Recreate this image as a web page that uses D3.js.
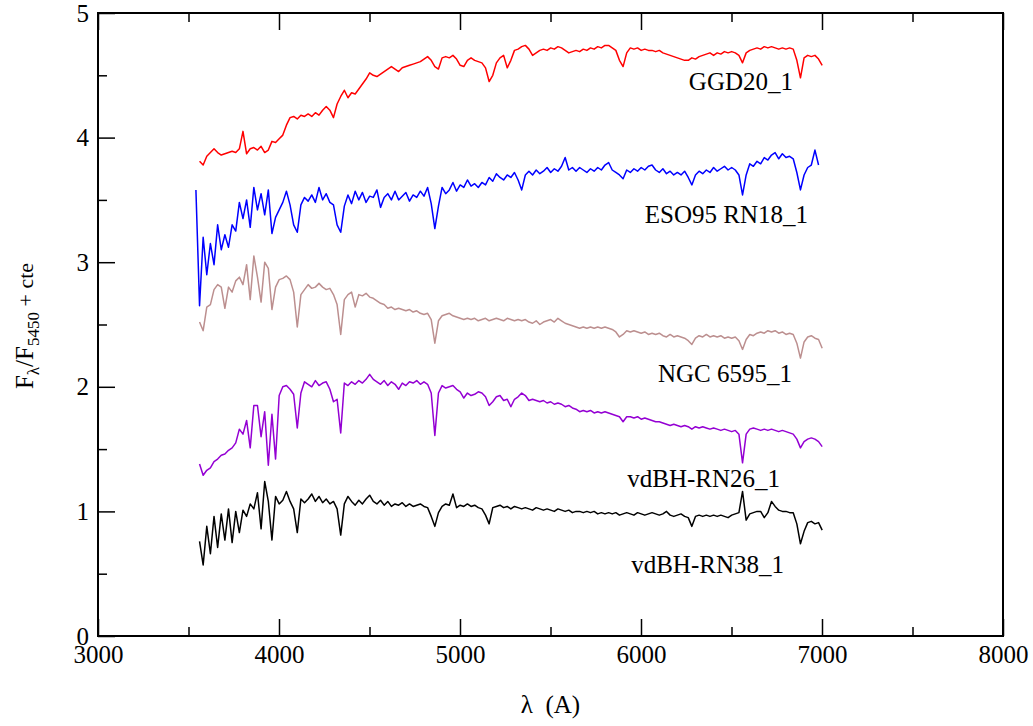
<!DOCTYPE html>
<html><head><meta charset="utf-8">
<script src="https://cdn.jsdelivr.net/npm/d3@7"></script>
<style>
body{margin:0;background:#fff}
svg{display:block}
text{font-family:"Liberation Serif","Times New Roman",serif;fill:#000}
</style>
</head><body>
<svg id="chart" width="1033" height="726"></svg>
<script>
// sampling grid of the spectra (Angstrom)
const wavelengths = d3.range(3541, 7002, 20);

const ggd20 = [
null,3.81,3.78,3.85,3.88,3.91,3.88,3.86,3.87,3.88,
3.89,3.88,3.91,4.05,3.87,3.91,3.92,3.90,3.93,3.88,
3.90,3.97,3.96,3.99,4.02,4.10,4.16,4.17,4.15,4.18,
4.17,4.19,4.17,4.20,4.18,4.22,4.25,4.22,4.16,4.27,
4.33,4.38,4.32,4.36,4.35,4.39,4.43,4.47,4.52,4.50,
4.49,4.51,4.53,4.55,4.57,4.55,4.53,4.56,4.57,4.58,
4.59,4.60,4.61,4.63,4.65,4.62,4.57,4.55,4.64,4.65,
4.64,4.66,4.63,4.58,4.57,4.62,4.64,4.62,4.61,4.60,
4.56,4.45,4.50,4.60,4.64,4.66,4.56,4.62,4.70,4.71,
4.73,4.74,4.71,4.66,4.68,4.70,4.71,4.70,4.72,4.71,
4.73,4.72,4.70,4.68,4.69,4.70,4.69,4.71,4.70,4.72,
4.71,4.73,4.72,4.74,4.74,4.72,4.70,4.62,4.57,4.68,
4.72,4.71,4.72,4.70,4.71,4.70,4.70,4.69,4.70,4.68,
4.67,4.66,4.65,4.64,4.63,4.62,4.62,4.64,4.63,4.65,
4.66,4.67,4.68,4.66,4.68,4.67,4.69,4.68,4.69,4.68,
4.66,4.60,4.68,4.70,4.71,4.72,4.71,4.73,4.72,4.73,
4.72,4.71,4.72,4.71,4.72,4.71,4.62,4.48,4.64,4.66,
4.65,4.66,4.63,4.58];

const eso95 = [
3.58,2.65,3.20,2.90,3.15,2.98,3.30,3.10,3.22,3.12,
3.30,3.25,3.48,3.35,3.50,3.28,3.60,3.42,3.55,3.38,
3.58,3.23,3.36,3.42,3.48,3.57,3.46,3.30,3.24,3.46,
3.52,3.49,3.54,3.48,3.60,3.50,3.55,3.48,3.46,3.30,
3.24,3.45,3.54,3.47,3.57,3.50,3.56,3.48,3.53,3.52,
3.58,3.44,3.52,3.55,3.50,3.57,3.50,3.53,3.56,3.49,
3.54,3.52,3.57,3.53,3.60,3.47,3.27,3.45,3.60,3.55,
3.58,3.64,3.57,3.62,3.60,3.66,3.61,3.63,3.60,3.64,
3.62,3.68,3.65,3.71,3.68,3.66,3.70,3.68,3.72,3.66,
3.58,3.70,3.73,3.70,3.74,3.71,3.73,3.76,3.72,3.75,
3.73,3.77,3.84,3.74,3.76,3.73,3.76,3.74,3.72,3.75,
3.73,3.76,3.74,3.78,3.80,3.74,3.72,3.70,3.67,3.74,
3.72,3.75,3.73,3.76,3.74,3.77,3.78,3.74,3.72,3.75,
3.71,3.73,3.70,3.72,3.70,3.73,3.68,3.62,3.70,3.73,
3.71,3.74,3.72,3.76,3.73,3.75,3.77,3.74,3.76,3.74,
3.70,3.54,3.70,3.79,3.77,3.81,3.79,3.84,3.82,3.86,
3.88,3.83,3.87,3.84,3.85,3.83,3.72,3.58,3.70,3.76,
3.78,3.90,3.78,null];

const ngc6595 = [
null,2.52,2.45,2.64,2.66,2.78,2.82,2.80,2.63,2.80,
2.76,2.85,2.88,2.82,2.98,2.70,3.05,2.88,2.68,3.00,
2.95,2.62,2.80,2.86,2.87,2.89,2.86,2.76,2.48,2.74,
2.78,2.82,2.79,2.80,2.83,2.80,2.78,2.79,2.74,2.66,
2.42,2.70,2.74,2.76,2.64,2.74,2.73,2.75,2.72,2.71,
2.69,2.67,2.66,2.63,2.64,2.62,2.63,2.62,2.61,2.62,
2.60,2.61,2.59,2.58,2.59,2.54,2.35,2.53,2.57,2.58,
2.59,2.57,2.56,2.55,2.54,2.55,2.54,2.55,2.53,2.54,
2.55,2.53,2.54,2.55,2.54,2.53,2.55,2.54,2.53,2.54,
2.53,2.54,2.52,2.51,2.53,2.50,2.52,2.53,2.54,2.52,
2.55,2.53,2.51,2.50,2.49,2.48,2.47,2.48,2.47,2.48,
2.47,2.48,2.47,2.48,2.47,2.46,2.44,2.40,2.42,2.45,
2.44,2.45,2.44,2.43,2.44,2.42,2.43,2.42,2.43,2.41,
2.40,2.42,2.40,2.41,2.40,2.39,2.37,2.34,2.39,2.41,
2.40,2.42,2.40,2.41,2.40,2.41,2.39,2.40,2.39,2.40,
2.37,2.30,2.38,2.42,2.41,2.43,2.44,2.43,2.45,2.44,
2.45,2.43,2.44,2.42,2.43,2.42,2.35,2.23,2.36,2.40,
2.41,2.39,2.38,2.31];

const rn26 = [
null,1.38,1.29,1.33,1.35,1.40,1.42,1.45,1.46,1.49,
1.51,1.55,1.66,1.62,1.73,1.51,1.85,1.85,1.60,1.80,
1.37,1.78,1.42,1.93,2.00,2.01,1.98,1.94,1.67,1.95,
2.04,2.02,2.00,2.05,2.01,2.03,2.04,1.98,1.88,1.90,
1.63,2.03,2.01,2.04,2.02,2.05,2.03,2.06,2.10,2.06,
2.04,2.02,2.05,2.01,2.04,2.02,1.98,2.03,2.01,2.04,
2.03,2.05,2.02,2.04,2.02,1.95,1.61,1.95,2.01,1.99,
2.00,2.01,1.98,1.96,1.91,1.95,1.93,1.94,1.96,1.95,
1.92,1.85,1.88,1.92,1.93,1.89,1.90,1.84,1.90,1.92,
1.95,1.93,1.89,1.90,1.89,1.88,1.89,1.87,1.88,1.86,
1.87,1.86,1.84,1.85,1.83,1.82,1.80,1.81,1.80,1.81,
1.79,1.80,1.79,1.80,1.79,1.78,1.77,1.76,1.72,1.76,
1.76,1.75,1.76,1.74,1.75,1.74,1.73,1.72,1.72,1.71,
1.70,1.69,1.70,1.69,1.68,1.69,1.68,1.66,1.68,1.67,
1.68,1.67,1.66,1.67,1.66,1.65,1.66,1.65,1.64,1.65,
1.62,1.39,1.62,1.66,1.67,1.66,1.65,1.66,1.65,1.66,
1.65,1.64,1.65,1.64,1.63,1.62,1.58,1.51,1.56,1.58,
1.59,1.58,1.56,1.52];

const rn38 = [
null,0.76,0.57,0.88,0.66,0.96,0.71,0.98,0.77,1.02,
0.75,1.00,0.83,1.01,0.96,1.06,1.02,1.15,0.86,1.24,
1.08,0.77,1.12,1.06,1.09,1.16,1.08,1.02,0.83,1.10,
1.07,1.10,1.14,1.08,1.12,1.07,1.10,1.06,1.08,1.02,
0.81,1.06,1.12,1.08,1.05,1.09,1.06,1.10,1.13,1.08,
1.06,1.09,1.05,1.08,1.04,1.06,1.05,1.07,1.04,1.06,
1.04,1.05,1.06,1.04,1.03,0.96,0.88,0.99,1.04,1.06,
1.05,1.14,1.03,1.05,1.04,1.06,1.04,1.05,1.03,1.02,
0.97,0.90,1.03,1.04,1.05,1.03,1.04,1.02,1.04,1.03,
1.02,1.03,1.02,1.01,1.03,1.02,1.01,1.02,1.01,1.00,
1.02,1.01,1.00,1.01,0.99,1.00,1.00,0.99,1.00,0.99,
1.00,0.98,0.99,0.98,0.99,0.98,0.99,0.97,0.98,0.99,
0.98,0.97,0.99,0.98,0.97,0.98,0.99,0.98,0.97,0.98,
1.00,0.97,0.96,0.97,0.98,0.96,0.95,0.88,0.96,0.97,
0.96,0.97,0.96,0.97,0.96,0.97,0.96,0.95,0.97,0.98,
0.99,1.16,0.93,0.98,0.99,1.00,1.00,0.95,0.99,1.08,
1.04,1.01,1.00,1.00,0.99,0.99,0.90,0.74,0.84,0.91,
0.92,0.90,0.91,0.85];

const seriesNames = ["GGD20_1", "ESO95 RN18_1", "NGC 6595_1", "vdBH-RN26_1", "vdBH-RN38_1"];
const seriesValues = [ggd20, eso95, ngc6595, rn26, rn38];
const seriesColors = ["#ff0000", "#0000ff", "#bc8f8f", "#9400d3", "#000000"];
// label anchor (end of text) in data coordinates
const labelLambda = [6840, 6923, 6834, 6768, 6790];
const labelLevel = [4.38, 3.315, 2.04, 1.196, 0.506];

const xMajor = [3000, 4000, 5000, 6000, 7000, 8000];
const xMinor = [3500, 4500, 5500, 6500, 7500];
const yMajor = [0, 1, 2, 3, 4, 5];
const yMinor = [0.5, 1.5, 2.5, 3.5, 4.5];

const svg = d3.select("#chart");
const pL = 98, pR = 1003, pT = 13, pB = 636;
const x = d3.scaleLinear().domain([3000, 8000]).range([pL, pR]);
const y = d3.scaleLinear().domain([0, 5]).range([pB, pT]);

// spectra
const line = d3.line()
  .defined(d => d[1] !== null)
  .x(d => x(d[0])).y(d => y(d[1]));
seriesValues.forEach((vals, i) => {
  const pts = wavelengths.map((w, k) => [w, vals[k]]);
  svg.append("path").datum(pts)
    .attr("fill", "none")
    .attr("stroke", seriesColors[i])
    .attr("stroke-width", 1.5)
    .attr("stroke-linejoin", "round")
    .attr("d", line);
});

// labels
seriesNames.forEach((n, i) => {
  svg.append("text")
    .attr("x", x(labelLambda[i])).attr("y", y(labelLevel[i]))
    .attr("text-anchor", "end")
    .attr("font-size", 25)
    .text(n);
});

// axes
function styleAxis(g) {
  g.select(".domain").remove();
  g.selectAll(".tick line").attr("stroke", "#000").attr("stroke-width", 1.5);
  g.selectAll(".tick text").attr("font-size", 25).attr("font-family", '"Liberation Serif","Times New Roman",serif').attr("fill", "#000");
}
svg.append("g").attr("transform", `translate(0,${pB})`)
  .call(d3.axisBottom(x).tickValues(xMajor).tickSize(-17).tickPadding(9).tickFormat(d3.format("d")))
  .call(styleAxis);
svg.append("g").attr("transform", `translate(0,${pB})`)
  .call(d3.axisBottom(x).tickValues(xMinor).tickSize(-9).tickFormat(""))
  .call(styleAxis);
svg.append("g").attr("transform", `translate(0,${pT})`)
  .call(d3.axisTop(x).tickValues(xMajor).tickSize(-17).tickFormat(""))
  .call(styleAxis);
svg.append("g").attr("transform", `translate(0,${pT})`)
  .call(d3.axisTop(x).tickValues(xMinor).tickSize(-9).tickFormat(""))
  .call(styleAxis);
svg.append("g").attr("transform", `translate(${pL},0)`)
  .call(d3.axisLeft(y).tickValues(yMajor).tickSize(-17).tickPadding(9).tickFormat(d3.format("d")))
  .call(styleAxis);
svg.append("g").attr("transform", `translate(${pL},0)`)
  .call(d3.axisLeft(y).tickValues(yMinor).tickSize(-9).tickFormat(""))
  .call(styleAxis);

// frame
svg.append("rect")
  .attr("x", pL).attr("y", pT)
  .attr("width", pR - pL).attr("height", pB - pT)
  .attr("fill", "none").attr("stroke", "#000").attr("stroke-width", 2);

// axis titles
svg.append("text")
  .attr("x", (pL + pR) / 2).attr("y", 713)
  .attr("text-anchor", "middle").attr("font-size", 25)
  .style("white-space", "pre")
  .text("λ  (A)");

const yt = svg.append("text")
  .attr("transform", "translate(33,326) rotate(-90)")
  .attr("text-anchor", "middle").attr("font-size", 25);
yt.append("tspan").text("F");
yt.append("tspan").attr("font-size", 17).attr("dy", 6).text("λ");
yt.append("tspan").attr("dy", -6).text("/F");
yt.append("tspan").attr("font-size", 17).attr("dy", 6).text("5450");
yt.append("tspan").attr("dy", -6).attr("font-size", 22).style("white-space", "pre").text(" + cte");
</script>
</body></html>
